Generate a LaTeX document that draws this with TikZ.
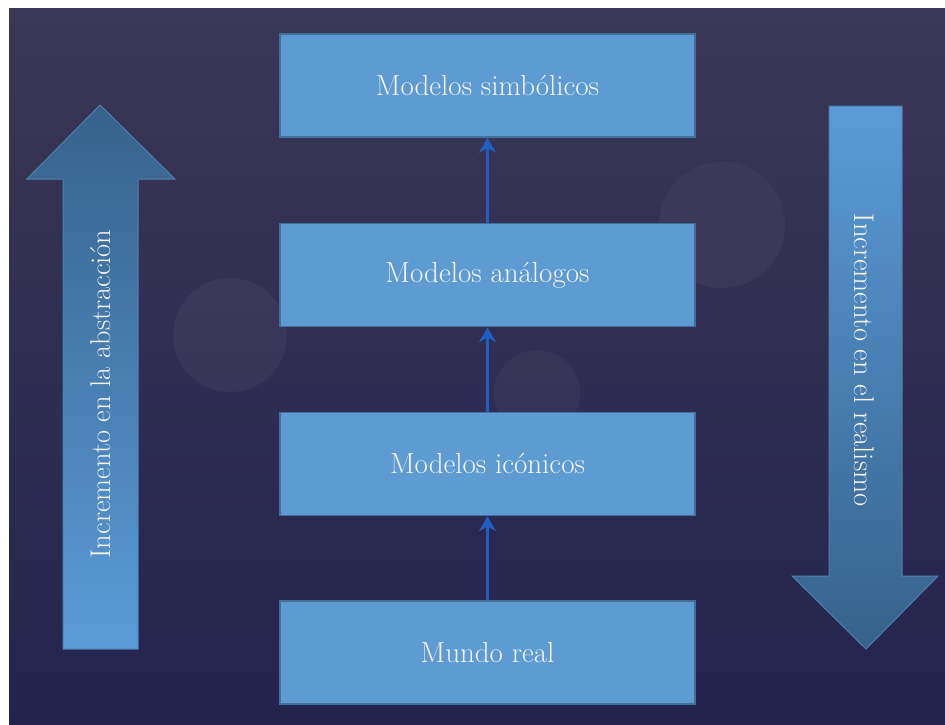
\documentclass[tikz,border=0pt]{standalone}
\usetikzlibrary{arrows.meta}
\definecolor{bgtop}{HTML}{3B3756}
\definecolor{bgbot}{HTML}{23234E}
\definecolor{boxfill}{HTML}{5E9BD2}
\definecolor{boxline}{HTML}{41709C}
\definecolor{linkblue}{HTML}{1F5FC4}
\definecolor{arrdark}{HTML}{36628A}
\definecolor{arrlight}{HTML}{5B9BD8}
\definecolor{arredge}{HTML}{4E80AE}
\definecolor{txt}{HTML}{F5F5F5}
\definecolor{blob}{HTML}{4A4668}
\tikzset{
  levelbox/.style={draw=boxline, line width=1.5pt, fill=boxfill, minimum width=415pt, minimum height=103pt, inner sep=0pt, text=txt, font=\fontsize{29}{34}\selectfont},
  link/.style={draw=linkblue, line width=3pt, -{Stealth[length=15pt,width=17pt,inset=5pt]}},
  bigarrow/.style={draw=arredge, line width=1pt},
  sidetext/.style={text=txt, font=\fontsize{28.5}{33}\selectfont, inner sep=0pt}
}
\begin{document}
\begin{tikzpicture}[x=1pt,y=-1pt]
\useasboundingbox (0,0) rectangle (945,725);
\fill[white] (0,0) rectangle (945,725);
\shade[top color=bgtop, bottom color=bgbot] (9,9) rectangle (945,725);
% faint circles
\fill[blob, opacity=0.35] (230,335) circle (57);
\fill[blob, opacity=0.35] (722,225) circle (63);
\fill[blob, opacity=0.3] (537,393) circle (43);
% big side arrows
\shade[top color=arrdark, bottom color=arrlight, bigarrow] (100,105) -- (175,179) -- (138,179) -- (138,649) -- (63,649) -- (63,179) -- (27,179) -- cycle;
\shade[top color=arrlight, bottom color=arrdark, bigarrow] (829,106) -- (902,106) -- (902,576) -- (938,576) -- (866,649) -- (792,576) -- (829,576) -- cycle;
\node[sidetext, rotate=90] (leftlabel) at (101,394) {Incremento en la abstracción};
\node[sidetext, rotate=-90] (rightlabel) at (864,360) {Incremento en el realismo};
% boxes
\node[levelbox] (simb) at (487.5,85.5) {Modelos simbólicos};
\node[levelbox] (anal) at (487.5,275) {Modelos análogos};
\node[levelbox] (icon) at (487.5,464) {Modelos icónicos};
\node[levelbox] (real) at (487.5,652.5) {Mundo real};
% connectors
\draw[link] (real.north) -- (icon.south);
\draw[link] (icon.north) -- (anal.south);
\draw[link] (anal.north) -- (simb.south);
\end{tikzpicture}
\end{document}
